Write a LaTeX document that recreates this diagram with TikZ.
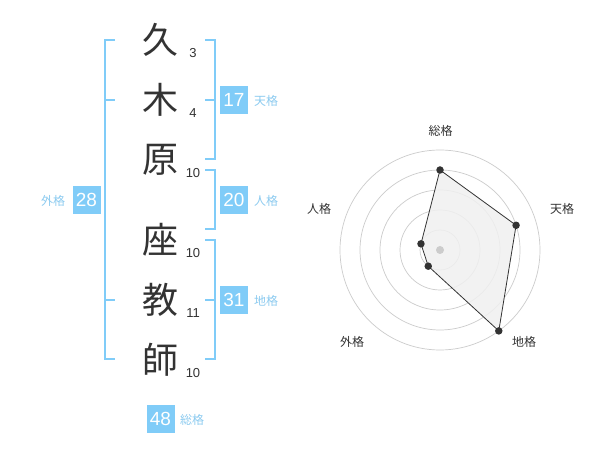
\documentclass[tikz,border=0pt]{standalone}
\usepackage{fontspec}
\usetikzlibrary{calc}
\setmainfont{Liberation Sans}
\newfontfamily\cjk{Noto Sans CJK JP}
\definecolor{bl}{HTML}{80CCF8}
\definecolor{bltext}{HTML}{8CCBF0}
\definecolor{dk}{HTML}{333333}
\definecolor{ring}{HTML}{CCCCCC}
\definecolor{polyfill}{HTML}{F0F0F0}
\begin{document}
\begin{tikzpicture}[x=1pt,y=-1pt,
  ch/.style={font=\cjk\fontsize{36}{36}\selectfont, text=dk, inner sep=0},
  stk/.style={font=\fontsize{13}{13}\selectfont, text=dk, inner sep=0},
  nbox/.style={fill=bl, text=white, minimum width=28pt, minimum height=28pt, inner sep=0, font=\fontsize{19}{19}\selectfont},
  blabel/.style={text=bltext, font=\cjk\fontsize{12}{12}\selectfont, inner sep=0},
  rlabel/.style={text=dk, font=\cjk\fontsize{12}{12}\selectfont, inner sep=0},
  br/.style={draw=bl, line width=2pt},
  ringc/.style={draw=ring, line width=0.7pt},
  dotn/.style={circle, fill=dk, inner sep=0, minimum size=7.5pt},
]
\path[use as bounding box, fill=white] (0,0) rectangle (600,470);

% name characters
\node[ch] (c1) at (160,40) {久};
\node[ch] (c2) at (160,100) {木};
\node[ch] (c3) at (160,160) {原};
\node[ch] (c4) at (160,240) {座};
\node[ch] (c5) at (160,300) {教};
\node[ch] (c6) at (160,360) {師};
% stroke counts
\node[stk] (s1) at (193,53) {3};
\node[stk] (s2) at (193,113) {4};
\node[stk] (s3) at (193,173) {10};
\node[stk] (s4) at (193,253) {10};
\node[stk] (s5) at (193,313) {11};
\node[stk] (s6) at (193,373) {10};

% brackets
\coordinate (La) at (115,40); \coordinate (Lb) at (105,40);
\coordinate (Lc) at (105,359); \coordinate (Ld) at (115,359);
\coordinate (Lm1) at (105,100); \coordinate (Lm1e) at (115,100);
\coordinate (Lm2) at (105,300); \coordinate (Lm2e) at (115,300);
\draw[br] (La) -- (Lb) -- (Lc) -- (Ld);
\draw[br] (Lm1) -- (Lm1e);
\draw[br] (Lm2) -- (Lm2e);

\coordinate (Ta) at (205,40); \coordinate (Tb) at (215,40);
\coordinate (Tc) at (215,159); \coordinate (Td) at (205,159);
\coordinate (Tm) at (205,100); \coordinate (Tme) at (215,100);
\draw[br] (Ta) -- (Tb) -- (Tc) -- (Td);
\draw[br] (Tm) -- (Tme);

\coordinate (Ja) at (205,170); \coordinate (Jb) at (215,170);
\coordinate (Jc) at (215,229); \coordinate (Jd) at (205,229);
\draw[br] (Ja) -- (Jb) -- (Jc) -- (Jd);

\coordinate (Ca) at (205,240); \coordinate (Cb) at (215,240);
\coordinate (Cc) at (215,359); \coordinate (Cd) at (205,359);
\coordinate (Cm) at (205,300); \coordinate (Cme) at (215,300);
\draw[br] (Ca) -- (Cb) -- (Cc) -- (Cd);
\draw[br] (Cm) -- (Cme);

% score boxes
\node[nbox] (b17) at (234,100) {17};
\node[blabel] (l17) at (266,101) {天格};
\node[nbox] (b20) at (234,200) {20};
\node[blabel] (l20) at (266,201) {人格};
\node[nbox] (b31) at (234,300) {31};
\node[blabel] (l31) at (266,301) {地格};
\node[nbox] (b28) at (86.5,200) {28};
\node[blabel] (l28) at (53,201) {外格};
\node[nbox] (b48) at (160.5,419) {48};
\node[blabel] (l48) at (192,420) {総格};

% radar chart
\coordinate (O) at (440,250);
\foreach \r in {20,40,60,80,100} \draw[ringc] (O) circle (\r);
\coordinate (pS) at ($(O)+(-90:80)$);
\coordinate (pT) at ($(O)+(-18:80)$);
\coordinate (pC) at ($(O)+(54:100)$);
\coordinate (pG) at ($(O)+(126:20)$);
\coordinate (pJ) at ($(O)+(-162:20)$);
\draw[fill=polyfill, fill opacity=0.85, draw=dk, line width=0.8pt] (pS) -- (pT) -- (pC) -- (pG) -- (pJ) -- cycle;
\node[circle, fill=ring, inner sep=0, minimum size=8pt] (ctr) at (O) {};
\foreach \p in {pS,pT,pC,pG,pJ} \node[dotn] (d\p) at (\p) {};
\node[rlabel] (rS) at (440.7,131) {総格};
\node[rlabel] (rT) at (562,209) {天格};
\node[rlabel] (rC) at (524,342) {地格};
\node[rlabel] (rG) at (352,342) {外格};
\node[rlabel] (rJ) at (319,209) {人格};
\end{tikzpicture}
\end{document}
